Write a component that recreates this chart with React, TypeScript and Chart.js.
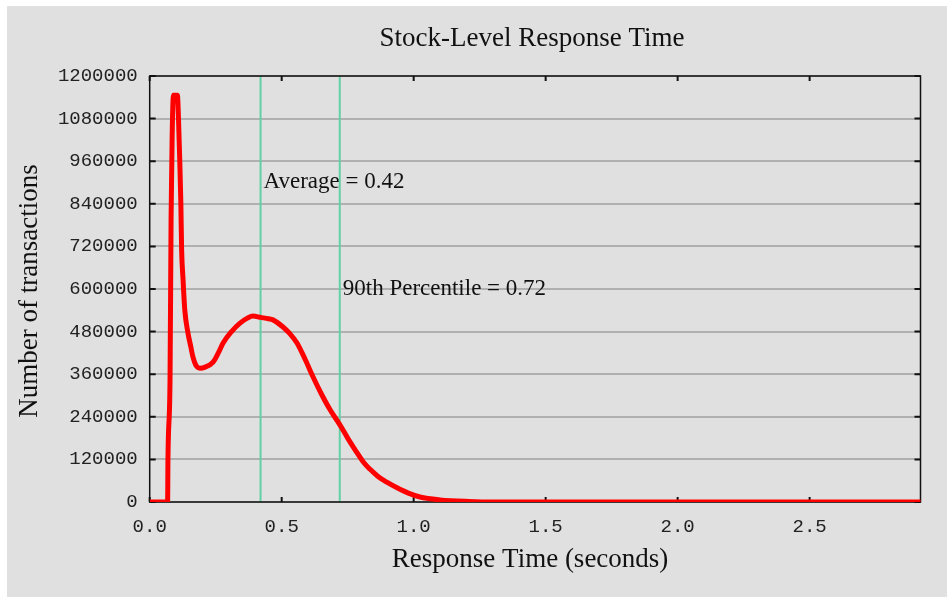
import React, { useEffect, useRef } from 'react';
import { Chart, registerables } from 'chart.js';

Chart.register(...registerables);

const CHART_TITLE = 'Stock-Level Response Time';
const X_TITLE = 'Response Time (seconds)';
const Y_TITLE = 'Number of transactions';

const responseTimes = [
  0, 0.068, 0.069, 0.077, 0.081, 0.085, 0.09, 0.105, 0.109, 0.114, 0.118, 0.121, 0.126, 0.133,
  0.145, 0.155, 0.164, 0.175, 0.19, 0.21, 0.24, 0.26, 0.278, 0.31, 0.342, 0.37, 0.391, 0.42,
  0.45, 0.467, 0.505, 0.53, 0.558, 0.59, 0.619, 0.65, 0.684, 0.72, 0.75, 0.78, 0.81, 0.835,
  0.865, 0.9, 0.937, 0.98, 1.024, 1.1, 1.21, 1.3, 2.93,
];
const transactions = [
  0, 0, 110000, 344000, 800000, 1028000, 1146000, 1146000, 1082000, 958000, 842000, 710000,
  631000, 540000, 476000, 440000, 408000, 385000, 377000, 380000, 394000, 420000, 448000,
  480000, 504000, 518000, 524000, 520000, 516000, 513000, 493000, 475000, 448000, 400000,
  352000, 305000, 259000, 218000, 180000, 145000, 112000, 92000, 72000, 55000, 40000, 25000,
  14000, 6000, 1500, 0, 0,
];

const markerValues = [0.42, 0.72];
const markerLabels = ['Average = 0.42', '90th Percentile = 0.72'];
const markerLabelLevels = [885000, 583000];

const X_MIN = 0;
const X_MAX = 2.92;
const X_STEP = 0.5;
const Y_MIN = 0;
const Y_MAX = 1200000;
const Y_STEP = 120000;

const SERIF = '"Liberation Serif", "DejaVu Serif", serif';
const MONO = '"Liberation Mono", "DejaVu Sans Mono", monospace';

export default function App() {
  const ref = useRef<HTMLCanvasElement>(null);

  useEffect(() => {
    document.body.style.margin = '0';
    const canvas = ref.current;
    if (!canvas) return;

    const overlay = {
      id: 'overlay',
      beforeDatasetsDraw(chart: any) {
        const { ctx, chartArea } = chart;
        const xs = chart.scales.x;
        const ys = chart.scales.y;
        const { left, right, top, bottom } = chartArea;
        ctx.save();
        ctx.fillStyle = '#111';
        ctx.font = `23px ${SERIF}`;
        ctx.textAlign = 'left';
        ctx.textBaseline = 'alphabetic';
        markerValues.forEach((v, i) => {
          ctx.fillText(markerLabels[i], xs.getPixelForValue(v) + 3, ys.getPixelForValue(markerLabelLevels[i]));
        });
        ctx.strokeStyle = '#62d0a4';
        ctx.lineWidth = 2;
        markerValues.forEach((v) => {
          const px = xs.getPixelForValue(v);
          ctx.beginPath();
          ctx.moveTo(px, top);
          ctx.lineTo(px, bottom);
          ctx.stroke();
        });
        ctx.strokeStyle = '#111';
        ctx.lineWidth = 1.5;
        ctx.strokeRect(left, top, right - left, bottom - top);
        ctx.lineWidth = 2;
        ys.ticks.forEach((t: any) => {
          const py = ys.getPixelForValue(t.value);
          ctx.beginPath();
          ctx.moveTo(left, py);
          ctx.lineTo(left + 6, py);
          ctx.moveTo(right, py);
          ctx.lineTo(right - 6, py);
          ctx.stroke();
        });
        xs.ticks.forEach((t: any) => {
          const px = xs.getPixelForValue(t.value);
          ctx.beginPath();
          ctx.moveTo(px, bottom);
          ctx.lineTo(px, bottom - 5);
          ctx.moveTo(px, top);
          ctx.lineTo(px, top + 5);
          ctx.stroke();
        });
        ctx.restore();
      },
      afterDraw(chart: any) {
        const { ctx, chartArea } = chart;
        ctx.save();
        ctx.fillStyle = '#111';
        ctx.font = `27px ${SERIF}`;
        ctx.textAlign = 'center';
        ctx.textBaseline = 'alphabetic';
        ctx.fillText(CHART_TITLE, 525, 40);
        ctx.fillText(X_TITLE, (chartArea.left + chartArea.right) / 2 - 5, 561);
        ctx.translate(30, 285);
        ctx.rotate(-Math.PI / 2);
        ctx.fillText(Y_TITLE, 0, 0);
        ctx.restore();
      },
    };

    const chart = new Chart(canvas, {
      type: 'line',
      data: {
        datasets: [
          {
            data: responseTimes.map((x, i) => ({ x, y: transactions[i] })),
            borderColor: '#ff0000',
            borderWidth: 5,
            pointRadius: 0,
            cubicInterpolationMode: 'monotone',
            fill: false,
            borderJoinStyle: 'miter',
          },
        ],
      },
      options: {
        responsive: false,
        animation: false,
        devicePixelRatio: 1,
        layout: { padding: { top: 70, left: 0, right: 26.5, bottom: 0 } },
        plugins: {
          legend: { display: false },
          title: { display: false },
          tooltip: { enabled: false },
        },
        scales: {
          x: {
            type: 'linear',
            min: X_MIN,
            max: X_MAX,
            ticks: {
              stepSize: X_STEP,
              callback: (v: any) => Number(v).toFixed(1),
              font: { family: MONO, size: 19 },
              color: '#222',
              padding: 14,
              maxRotation: 0,
              autoSkip: false,
            },
            grid: { display: false, drawTicks: false },
            border: { display: false },
            afterBuildTicks: (s: any) => {
              s.ticks = s.ticks.filter(
                (t: any) => Math.abs(t.value / X_STEP - Math.round(t.value / X_STEP)) < 1e-6,
              );
            },
            afterFit: (s: any) => {
              s.height = 95;
            },
          },
          y: {
            type: 'linear',
            min: Y_MIN,
            max: Y_MAX,
            ticks: {
              stepSize: Y_STEP,
              callback: (v: any) => String(v),
              font: { family: MONO, size: 19 },
              color: '#222',
              padding: 12,
            },
            grid: { color: '#b0b0b0', lineWidth: 2, drawTicks: false },
            border: { display: false },
            afterFit: (s: any) => {
              s.width = 142.7;
            },
          },
        },
      },
      plugins: [overlay],
    });
    return () => chart.destroy();
  }, []);

  return (
    <div style={{ position: 'relative', width: 947, height: 597, background: '#fff', overflow: 'hidden' }}>
      <div style={{ position: 'absolute', left: 7, top: 6, width: 940, height: 591, background: '#e0e0e0' }}>
        <canvas ref={ref} width={940} height={591} style={{ display: 'block', width: 940, height: 591 }} />
      </div>
    </div>
  );
}
